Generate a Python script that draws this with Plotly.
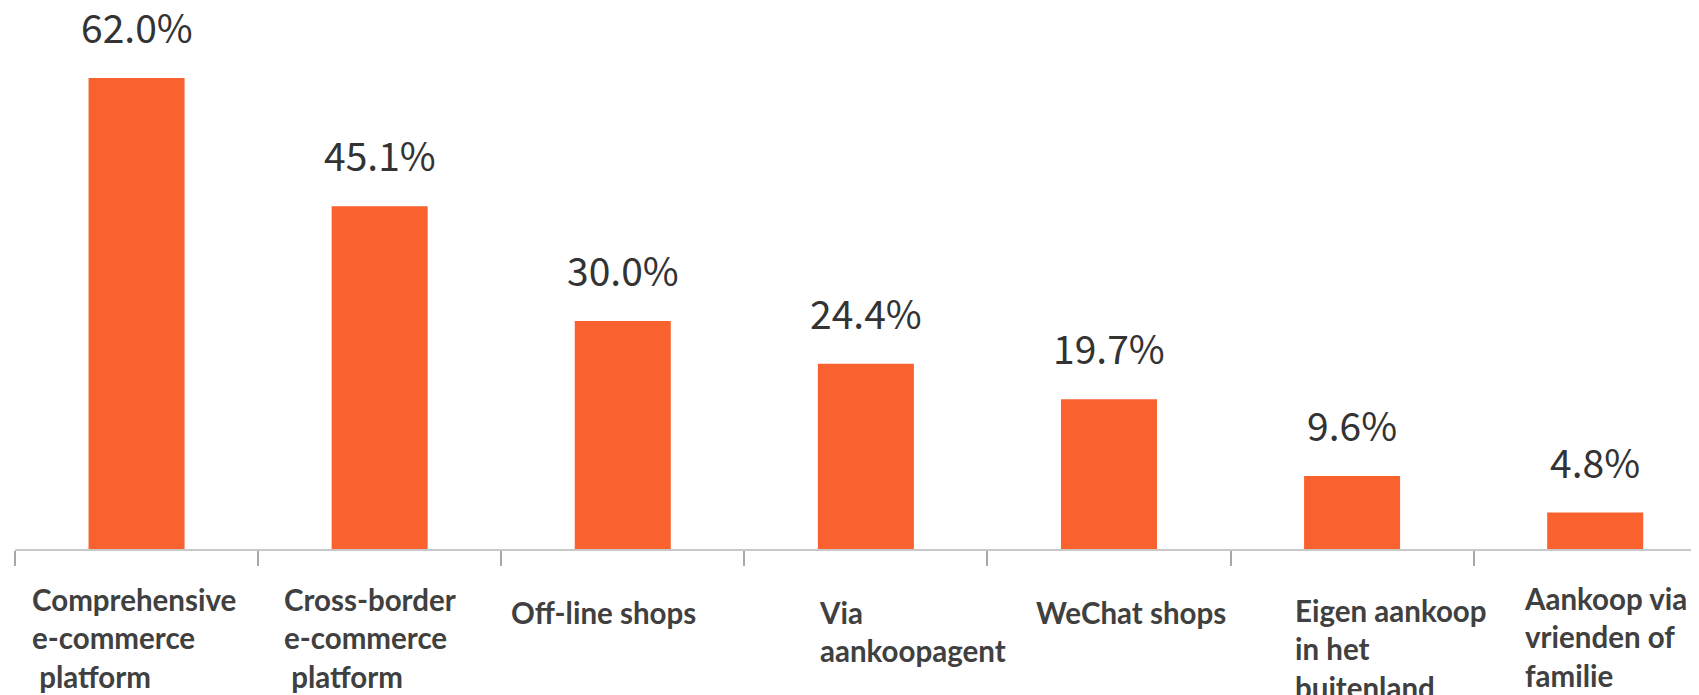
import plotly.graph_objects as go

categories = [
    "Comprehensive e-commerce platform",
    "Cross-border e-commerce platform",
    "Off-line shops",
    "Via aankoopagent",
    "WeChat shops",
    "Eigen aankoop in het buitenland",
    "Aankoop via vrienden of familie",
]
values = [62.0, 45.1, 30.0, 24.4, 19.7, 9.6, 4.8]
value_labels = ["62.0%", "45.1%", "30.0%", "24.4%", "19.7%", "9.6%", "4.8%"]
axis_labels = [
    "Comprehensive<br>e-commerce<br>\u00a0platform",
    "Cross-border<br>e-commerce<br>\u00a0platform",
    "Off-line shops",
    "Via<br>aankoopagent",
    "WeChat shops",
    "Eigen aankoop<br>in het<br>buitenland",
    "Aankoop via<br>vrienden of<br>familie",
]

# styling offsets for the category text boxes (pixels)
label_xshift = [-107, -98, -114, -49, -75, -59, -73]
label_top = [31, 31, 44, 44, 44, 42, 30]

BAR = "#F9622F"
# page has an 8px body margin, so figure is sized to fill the 1699x695 window
W, H = 1691, 687

fig = go.Figure()
fig.add_trace(go.Bar(
    x=categories, y=values,
    marker=dict(color=BAR, line=dict(width=0)),
    hoverinfo="skip",
))

annotations = []
for c, v, t in zip(categories, values, value_labels):
    annotations.append(dict(
        x=c, y=v, xref="x", yref="y", text=t, showarrow=False,
        xanchor="center", yanchor="bottom", yshift=22,
        font=dict(family="Noto Sans CJK SC", size=39, color="#333333", weight=400),
    ))
for c, lab, dx, dy in zip(categories, axis_labels, label_xshift, label_top):
    annotations.append(dict(
        x=c, y=0, xref="x", yref="paper", text=lab, showarrow=False,
        xanchor="left", yanchor="top", align="left", xshift=dx, yshift=-dy,
        font=dict(family="Lato", size=29.5, color="#404040", weight="bold"),
    ))

fig.update_layout(
    width=W, height=H,
    margin=dict(l=7, r=0, t=0, b=146),
    paper_bgcolor="white", plot_bgcolor="white",
    bargap=0.605,
    showlegend=False,
    annotations=annotations,
    xaxis=dict(
        range=[-0.5, 6.427],
        showticklabels=False,
        showline=True, linecolor="#c8c8c8", linewidth=2,
        ticks="outside", ticklen=15, tickwidth=1.5, tickcolor="#a8a8a8",
        tickson="boundaries",
        showgrid=False, zeroline=False, fixedrange=True,
    ),
    yaxis=dict(
        range=[0, 71.21], visible=False, showgrid=False, zeroline=False,
    ),
)

fig.write_html("out.html")
